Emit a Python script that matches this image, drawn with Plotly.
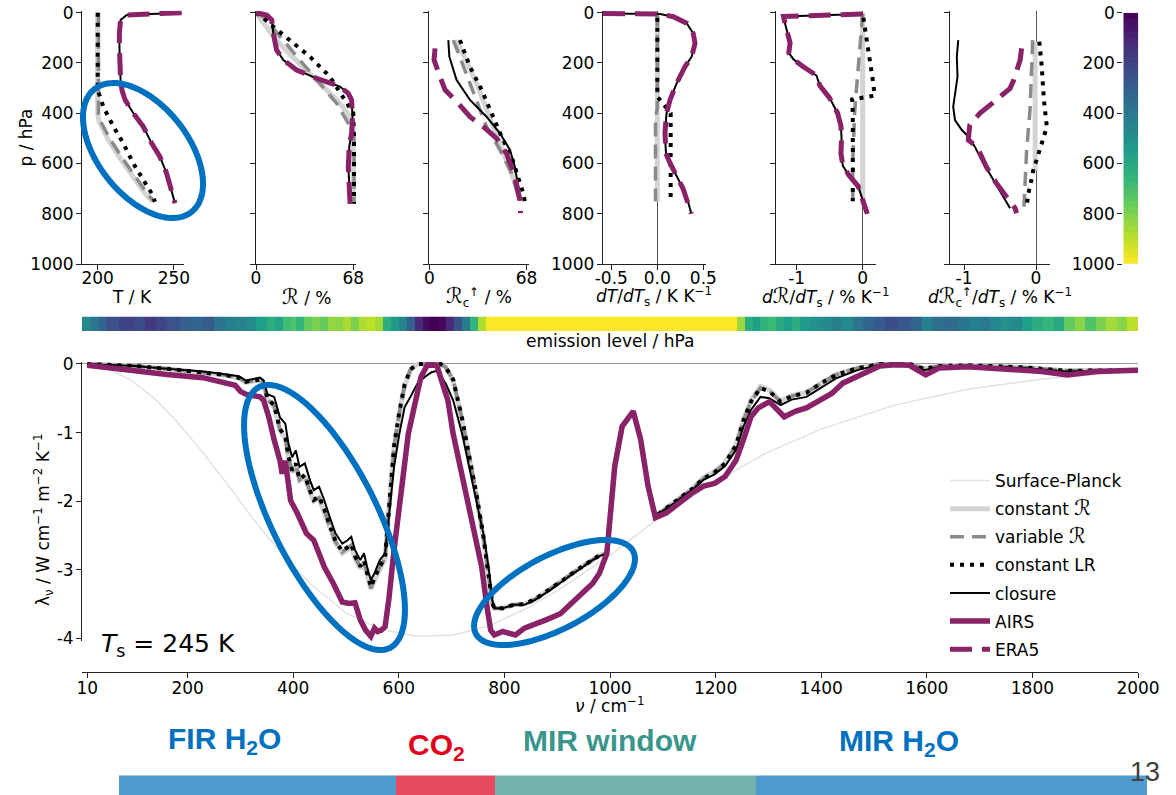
import math
import plotly.graph_objects as go

W, H = 1176, 795
FONT = "DejaVu Sans"
PURPLE = "#8a2268"
ELL = "#0070c0"
RSCR = '<span style="font-size:21px">ℛ</span>'

def fx(px):
    return px / W

def fy(py):
    return 1 - py / H

# ---------------- top panels: profile data (pressure in hPa) ----------------
# panel 1: temperature / K
t_p = [0, 9, 29, 82, 150, 215, 268, 310, 347, 400, 453, 520, 573, 639, 705, 758]
t_closure = [255, 219, 215, 214.2, 214.3, 214.6, 215, 216, 218, 223.4, 229.9, 235.4, 240.8, 245.2, 248.5, 250.7]
t_era5 = [255, 219, 215, 214.2, 214.3, 214.6, 215, 216, 218, 223.4, 229.9, 235.4, 240.8, 245.2, 248.5, 250.7]
t_constR_p = [0, 100, 200, 300, 405, 434, 507, 586, 666, 719, 752]
t_constR = [200, 200, 200, 200, 200, 201, 207, 215.5, 224.5, 231, 236]
t_varR_p = [0, 100, 200, 300, 405, 434, 507, 586, 666, 719, 752]
t_varR = [200.5, 200.5, 200.5, 200.5, 200.5, 202, 208.5, 217, 226, 232.5, 237]
t_constLR_p = [0, 100, 200, 307, 374, 453, 520, 600, 666, 719, 752]
t_constLR = [200, 200, 200, 200, 203.7, 210.3, 216.8, 223.4, 230, 235.4, 237.6]

# panel 2: relative humidity R / %
r_p = [0, 9, 29, 82, 148, 188, 228, 261, 294, 321, 347, 414, 480, 533, 613, 692, 760]
r_closure = [0, 7.5, 11, 12.1, 14.4, 19.1, 28.4, 42.4, 58.7, 64.5, 66.8, 67.5, 66.8, 65.2, 64.5, 65.2, 66.1]
r_era5_p = [0, 9, 29, 82, 148, 188, 228, 261, 294, 321, 347, 414, 480, 533, 613, 692, 772, 800]
r_era5 = [0, 7.5, 11, 12.1, 14.4, 19.1, 28.4, 42.4, 58.7, 64.5, 66.8, 67.5, 66.8, 65.2, 64.5, 65.2, 66.1, 66.1]
r_constR_p = [0, 50, 100, 150, 200, 250, 300, 350, 400, 450, 500, 600, 700, 760]
r_constR = [0, 6, 13, 21, 30, 39, 48, 57, 64, 68, 68, 68, 68, 68]
r_varR_p = [0, 16, 95, 188, 281, 361, 440, 480, 600, 700, 760]
r_varR = [0, 5.1, 16.8, 30.7, 44.7, 56.4, 64.5, 68.5, 68.5, 68.5, 68.5]
r_constLR_p = [0, 20, 60, 109, 175, 255, 334, 400, 500, 600, 700, 760]
r_constLR = [0, 5, 13, 23.8, 37.7, 51.7, 61, 68, 68.5, 68.5, 68.5, 68.5]

# panel 3: clear-sky upper relative humidity Rc / %
rc_p = [109, 175, 268, 347, 414, 480, 546, 613, 692, 745]
rc_closure = [13.3, 14, 19.1, 28.4, 40, 49.4, 56.4, 59.8, 62.2, 63.3]
rc_era5_p = [142, 188, 255, 307, 361, 414, 453, 500, 560, 652, 745, 798]
rc_era5 = [4, 3.3, 7.5, 11, 20.3, 28.4, 37.7, 47, 54, 59.8, 63.3, 63.8]
rc_constR_p = [109, 281, 453, 586, 692, 745]
rc_constR = [19.1, 33, 44.7, 54, 61, 63.3]
rc_varR_p = [109, 281, 453, 546, 639, 732]
rc_varR = [16.8, 28.4, 40, 49.4, 57.5, 62.2]
rc_constLR_p = [109, 215, 307, 400, 493, 573, 652, 719, 772]
rc_constLR = [21.4, 28.4, 36.6, 43.5, 50.5, 57.5, 62.2, 65.7, 67.5]

# panel 4: dT/dTs / K K-1
dt_p = [3, 5, 16, 42, 82, 122, 175, 215, 281, 347, 400, 480, 560, 600, 700, 760, 800]
dt_closure = [-0.59, 0.03, 0.174, 0.319, 0.39, 0.41, 0.373, 0.30, 0.21, 0.138, 0.10, 0.083, 0.094, 0.14, 0.28, 0.34, 0.37]
dt_era5 = [-0.59, 0.03, 0.174, 0.319, 0.39, 0.41, 0.373, 0.30, 0.21, 0.138, 0.10, 0.083, 0.094, 0.14, 0.28, 0.34, 0.37]
dt_constR_p = [0, 750]
dt_constR = [0, 0]
dt_varR_p = [0, 380, 420, 750]
dt_varR = [0, 0, -0.02, -0.02]
dt_constLR_p = [20, 334, 400, 745]
dt_constLR = [0, 0, 0.145, 0.145]

# panel 5: dR/dTs / % K-1
dr_p = [5, 15, 50, 120, 160, 185, 215, 250, 290, 340, 400, 450, 500, 560, 610, 650, 690, 720, 750, 800]
dr_closure = [0.0, -1.2, -1.17, -1.1, -1.12, -1.05, -0.9, -0.7, -0.65, -0.5, -0.38, -0.33, -0.32, -0.33, -0.3, -0.2, -0.07, -0.03, 0.0, 0.07]
dr_era5 = [0.0, -1.2, -1.17, -1.1, -1.12, -1.05, -0.9, -0.7, -0.65, -0.5, -0.38, -0.33, -0.32, -0.33, -0.3, -0.2, -0.07, -0.03, 0.0, 0.07]
dr_constR_p = [0, 765]
dr_constR = [0, 0]
dr_varR_p = [3, 215, 387, 586, 745]
dr_varR = [0, -0.07, -0.12, -0.15, -0.15]
dr_constLR_p = [20, 100, 200, 280, 330, 345, 400, 500, 600, 700, 750]
dr_constLR = [0.01, 0.06, 0.12, 0.16, 0.18, -0.16, -0.15, -0.15, -0.15, -0.15, -0.15]

# panel 6: dRc/dTs / % K-1
drc_p = [109, 175, 255, 321, 374, 427, 467, 493, 533, 586, 666, 732, 778]
drc_closure = [-1.08, -1.1, -1.09, -1.125, -1.15, -1.125, -1.03, -0.94, -0.85, -0.755, -0.59, -0.45, -0.36]
drc_era5_p = [142, 188, 268, 301, 347, 400, 447, 507, 533, 613, 679, 732, 778, 798]
drc_era5 = [-0.2, -0.22, -0.31, -0.36, -0.55, -0.78, -0.92, -0.94, -0.82, -0.69, -0.55, -0.41, -0.29, -0.27]
drc_constR_p = [115, 630]
drc_constR = [-0.012, -0.012]
drc_varR_p = [109, 215, 387, 546, 652, 772]
drc_varR = [-0.046, -0.06, -0.083, -0.13, -0.15, -0.167]
drc_constLR_p = [115, 215, 347, 453, 493, 579, 626, 679, 719, 772]
drc_constLR = [0.046, 0.08, 0.11, 0.15, 0.11, 0.019, -0.037, -0.074, -0.106, -0.13]

# ---------------- colour bar levels (hPa) ----------------
cbar_edges = list(range(0, 1001, 25))
cbar_vals = [e + 12.5 for e in cbar_edges[:-1]]

# ---------------- emission level per wavenumber band ----------------
em_edges = [0, 15, 30, 45, 70, 100, 120, 140, 160, 185,
            210, 230, 250, 270, 290, 310, 330, 350, 365, 380,
            395, 405, 420, 435, 450, 465, 480, 495, 510, 525,
            540, 555, 570, 585, 600, 615, 630, 645, 660, 675,
            690, 705, 720, 735, 750, 765, 1240, 1255, 1270, 1285,
            1300, 1315, 1330, 1345, 1360, 1380, 1400, 1420, 1440, 1460,
            1480, 1500, 1520, 1545, 1570, 1590, 1610, 1630, 1660, 1680,
            1700, 1720, 1740, 1760, 1780, 1800, 1820, 1840, 1860, 1880,
            1900, 1920, 1940, 1960, 1980, 2000]
em_level = [470, 400, 330, 250, 200, 230, 170, 210, 260, 300,
            330, 290, 380, 430, 450, 480, 560, 620, 580, 690,
            720, 660, 760, 800, 760, 840, 820, 870, 800, 880,
            900, 860, 620, 540, 450, 300, 120, 30, 0, 20,
            120, 250, 420, 650, 880, 1000, 850, 620, 560, 640,
            680, 600, 560, 620, 540, 500, 470, 430, 470, 380,
            330, 280, 240, 280, 330, 440, 370, 340, 390, 440,
            400, 460, 500, 470, 560, 620, 660, 600, 760, 820,
            720, 800, 860, 820, 900]

# ---------------- spectral feedback (bottom) ----------------
nu_planck = [10, 46, 94, 141, 182, 229, 276, 331, 385, 432, 500, 567, 635, 703, 770,
             838, 906, 974, 1009, 1086, 1191, 1295, 1400, 1539, 1678, 1818, 2000]
planck = [0, -0.06, -0.24, -0.53, -0.86, -1.29, -1.76, -2.33, -2.82, -3.2, -3.63, -3.87, -3.97, -3.95,
          -3.82, -3.58, -3.28, -2.93, -2.74, -2.28, -1.76, -1.3, -0.95, -0.6, -0.37, -0.22, -0.1]

nu_model = [10, 100, 160, 230, 270, 297, 310, 324, 337, 344,
            351, 364, 375, 385, 391, 398, 405, 412, 422, 432,
            439, 449, 459, 469, 480, 493, 503, 510, 517, 527,
            534, 540, 547, 554, 564, 574, 581, 591, 601, 611,
            622, 635, 649, 662, 672, 679, 689, 703, 720, 733,
            747, 760, 770, 777, 781, 797, 818, 838, 858, 886,
            913, 940, 967, 980, 994, 1009, 1023, 1044, 1058, 1072,
            1086, 1121, 1156, 1177, 1198, 1218, 1239, 1253, 1267, 1285,
            1302, 1323, 1344, 1372, 1400, 1428, 1469, 1511, 1567, 1595,
            1623, 1678, 1783, 1866, 1922, 2000]
closure = [0, -0.03, -0.07, -0.11, -0.15, -0.18, -0.24, -0.22, -0.20, -0.24,
           -0.44, -0.48, -0.78, -0.87, -1.16, -1.36, -1.26, -1.50, -1.45, -1.70,
           -1.84, -1.79, -1.99, -2.23, -2.47, -2.62, -2.57, -2.52, -2.71, -2.86,
           -2.76, -2.96, -3.15, -3.05, -2.86, -2.76, -2.23, -1.50, -1.02, -0.63,
           -0.48, -0.29, -0.19, -0.12, -0.10, -0.17, -0.29, -0.53, -1.02, -1.50,
           -1.99, -2.47, -2.96, -3.44, -3.56, -3.56, -3.51, -3.51, -3.44, -3.30,
           -3.15, -3.00, -2.86, -2.80, -2.76, -1.49, -0.91, -0.69, -1.10, -1.78,
           -2.22, -2.03, -1.83, -1.69, -1.61, -1.49, -1.25, -0.91, -0.67, -0.48,
           -0.50, -0.60, -0.52, -0.48, -0.35, -0.21, -0.09, -0.01, -0.01, -0.09,
           -0.04, -0.03, -0.06, -0.11, -0.10, -0.09]
constLR = [0, -0.03, -0.07, -0.12, -0.16, -0.20, -0.26, -0.24, -0.23, -0.28,
           -0.50, -0.60, -0.95, -1.05, -1.35, -1.55, -1.45, -1.68, -1.62, -1.85,
           -1.98, -1.93, -2.12, -2.35, -2.58, -2.73, -2.68, -2.63, -2.80, -2.95,
           -2.86, -3.05, -3.25, -3.12, -2.95, -2.82, -2.10, -1.20, -0.70, -0.30,
           -0.08, 0.0, 0.0, 0.0, 0.0, 0.0, -0.05, -0.23, -0.80, -1.30,
           -1.90, -2.50, -3.10, -3.48, -3.56, -3.56, -3.51, -3.50, -3.43, -3.29,
           -3.14, -2.99, -2.85, -2.79, -2.76, -1.49, -0.91, -0.69, -1.10, -1.78,
           -2.22, -2.02, -1.82, -1.67, -1.58, -1.45, -1.18, -0.82, -0.55, -0.35,
           -0.40, -0.55, -0.47, -0.42, -0.28, -0.16, -0.06, 0.0, 0.0, -0.07,
           -0.03, -0.02, -0.05, -0.10, -0.09, -0.09]
constR = [0, -0.03, -0.07, -0.12, -0.16, -0.21, -0.27, -0.25, -0.24, -0.29,
          -0.52, -0.62, -0.97, -1.08, -1.38, -1.58, -1.48, -1.70, -1.65, -1.88,
          -2.00, -1.96, -2.15, -2.38, -2.60, -2.76, -2.71, -2.66, -2.83, -2.98,
          -2.89, -3.08, -3.28, -3.15, -2.98, -2.84, -2.12, -1.22, -0.72, -0.32,
          -0.09, 0.0, 0.0, 0.0, 0.0, 0.0, -0.05, -0.24, -0.82, -1.32,
          -1.92, -2.52, -3.12, -3.49, -3.56, -3.56, -3.51, -3.50, -3.43, -3.29,
          -3.14, -2.99, -2.85, -2.79, -2.76, -1.49, -0.91, -0.69, -1.10, -1.78,
          -2.22, -2.02, -1.82, -1.66, -1.57, -1.44, -1.17, -0.80, -0.53, -0.33,
          -0.38, -0.54, -0.46, -0.41, -0.27, -0.15, -0.06, 0.0, 0.0, -0.07,
          -0.03, -0.02, -0.05, -0.10, -0.09, -0.09]
varR = [0, -0.03, -0.07, -0.12, -0.16, -0.20, -0.26, -0.25, -0.23, -0.28,
        -0.51, -0.61, -0.96, -1.06, -1.36, -1.57, -1.47, -1.69, -1.63, -1.86,
        -1.99, -1.95, -2.13, -2.36, -2.59, -2.74, -2.69, -2.64, -2.81, -2.96,
        -2.87, -3.06, -3.27, -3.13, -2.96, -2.83, -2.11, -1.21, -0.71, -0.31,
        -0.08, 0.0, 0.0, 0.0, 0.0, 0.0, -0.05, -0.23, -0.81, -1.31,
        -1.90, -2.50, -3.10, -3.48, -3.56, -3.56, -3.51, -3.50, -3.43, -3.29,
        -3.14, -2.99, -2.85, -2.79, -2.76, -1.49, -0.91, -0.69, -1.10, -1.78,
        -2.22, -2.02, -1.82, -1.67, -1.58, -1.45, -1.18, -0.82, -0.55, -0.35,
        -0.40, -0.55, -0.47, -0.42, -0.28, -0.16, -0.06, 0.0, 0.0, -0.07,
        -0.03, -0.02, -0.05, -0.10, -0.09, -0.09]

nu_airs = [10, 94, 161, 229, 276, 290, 300, 310, 324, 337,
           344, 354, 364, 375, 379, 385, 391, 395, 408, 425,
           439, 459, 476, 493, 506, 517, 527, 537, 547, 554,
           560, 567, 574, 581, 591, 605, 618, 632, 642, 655,
           672, 683, 693, 703, 716, 730, 743, 757, 767, 774,
           781, 797, 811, 821, 838, 858, 879, 906, 926, 946,
           967, 980, 994, 1009, 1023, 1044, 1058, 1072, 1086, 1107,
           1135, 1156, 1177, 1198, 1218, 1239, 1253, 1267, 1281, 1302,
           1330, 1351, 1372, 1400, 1420, 1441, 1469, 1497, 1511, 1539,
           1567, 1598, 1623, 1678, 1720, 1783, 1818, 1866, 1922, 2000]
airs = [-0.02, -0.10, -0.155, -0.20, -0.27, -0.31, -0.40, -0.44, -0.46, -0.48,
        -0.53, -0.78, -1.11, -1.41, -1.60, -1.41, -1.75, -1.99, -2.18, -2.47,
        -2.57, -2.96, -3.20, -3.47, -3.49, -3.48, -3.73, -3.88, -3.97, -3.85,
        -3.90, -3.88, -3.83, -3.44, -2.71, -1.75, -1.02, -0.53, -0.19, 0.0,
        -0.02, -0.29, -0.53, -1.02, -1.50, -1.99, -2.47, -2.96, -3.54, -3.88,
        -3.95, -3.90, -3.93, -3.95, -3.85, -3.80, -3.73, -3.64, -3.49, -3.34,
        -3.20, -3.05, -2.76, -1.49, -0.91, -0.69, -1.10, -1.78, -2.24, -2.17,
        -2.00, -1.88, -1.78, -1.74, -1.64, -1.40, -1.10, -0.77, -0.64, -0.55,
        -0.77, -0.69, -0.64, -0.52, -0.43, -0.28, -0.18, -0.09, -0.03, -0.01,
        -0.02, -0.16, -0.06, -0.04, -0.06, -0.09, -0.11, -0.16, -0.11, -0.09]

# ---------------- styles ----------------
S_PLANCK = dict(color="#e2e2e2", width=1.5)
S_CONSTR = dict(color="#d3d3d3", width=5)
S_VARR = dict(color="#8a8a8a", width=3.5, dash="14px,8px")
S_CONSTLR = dict(color="black", width=4, dash="4px,6px")
S_CLOSURE = dict(color="black", width=2)
S_AIRS = dict(color=PURPLE, width=5.5)
S_ERA5 = dict(color=PURPLE, width=5, dash="22px,10px")

fig = go.Figure()


def add(xv, yv, style, ax, name=None, show=False):
    fig.add_trace(go.Scatter(
        x=xv, y=yv, mode="lines", line=style, xaxis="x" + ax, yaxis="y" + ax,
        name=name, showlegend=show, legendgroup=name, hoverinfo="skip"))


# bottom spectral panel (added first so the legend follows this order)
add(nu_planck, planck, S_PLANCK, "7", name="Surface-Planck", show=True)
add(nu_model, constR, S_CONSTR, "7", name="constant " + RSCR, show=True)
add(nu_model, varR, S_VARR, "7", name="variable " + RSCR, show=True)
add(nu_model, constLR, S_CONSTLR, "7", name="constant LR", show=True)
add(nu_model, closure, S_CLOSURE, "7", name="closure", show=True)
add(nu_airs, airs, S_AIRS, "7", name="AIRS", show=True)

# top panels
profiles = [
    ("", (t_constR_p, t_constR), (t_varR_p, t_varR), (t_constLR_p, t_constLR), (t_p, t_closure), (t_p, t_era5)),
    ("2", (r_constR_p, r_constR), (r_varR_p, r_varR), (r_constLR_p, r_constLR), (r_p, r_closure), (r_era5_p, r_era5)),
    ("3", (rc_constR_p, rc_constR), (rc_varR_p, rc_varR), (rc_constLR_p, rc_constLR), (rc_p, rc_closure), (rc_era5_p, rc_era5)),
    ("4", (dt_constR_p, dt_constR), (dt_varR_p, dt_varR), (dt_constLR_p, dt_constLR), (dt_p, dt_closure), (dt_p, dt_era5)),
    ("5", (dr_constR_p, dr_constR), (dr_varR_p, dr_varR), (dr_constLR_p, dr_constLR), (dr_p, dr_closure), (dr_p, dr_era5)),
    ("6", (drc_constR_p, drc_constR), (drc_varR_p, drc_varR), (drc_constLR_p, drc_constLR), (drc_p, drc_closure), (drc_era5_p, drc_era5)),
]
for ax, cr, vr, lr, cl, er in profiles:
    add(cr[1], cr[0], S_CONSTR, ax)
    add(vr[1], vr[0], S_VARR, ax)
    add(lr[1], lr[0], S_CONSTLR, ax)
    add(cl[1], cl[0], S_CLOSURE, ax)
    add(er[1], er[0], S_ERA5, ax, name="ERA5", show=(ax == ""))

# vertical colour bar
fig.add_trace(go.Heatmap(
    x=[0, 1], y=cbar_edges, z=[[v] for v in cbar_vals], colorscale="Viridis",
    zmin=0, zmax=1000, showscale=False, xaxis="x8", yaxis="y8", hoverinfo="skip"))

# emission level strip
fig.add_trace(go.Heatmap(
    x=em_edges, y=[0, 1], z=[em_level], colorscale="Viridis", zmin=0, zmax=1000,
    showscale=False, xaxis="x9", yaxis="y9", hoverinfo="skip"))

# ---------------- axes ----------------
tickfont = dict(size=17, color="black", family=FONT)
base = dict(showline=True, linecolor="#222222", linewidth=1, ticks="outside", ticklen=5,
            tickcolor="#222222", tickwidth=1, showgrid=False, zeroline=False,
            tickfont=tickfont, fixedrange=True, automargin=False)

panel_specs = [
    ("", (82, 184), [189.7, 256.6], [200, 250], ["200", "250"], False, True),
    ("2", (256, 356), [0, 69.9], [0, 68], ["0", "68"], False, False),
    ("3", (429.3, 529.3), [0, 69.9], [0, 68], ["0", "68"], False, False),
    ("4", (602.7, 706), [-0.5935, 0.529], [-0.5, 0, 0.5], ["-0.5", "0.0", "0.5"], True, True),
    ("5", (776, 876), [-1.3136, 0.2015], [-1, 0], ["-1", "0"], True, False),
    ("6", (950, 1050), [-1.1944, 0.1944], [-1, 0], ["-1", "0"], True, False),
]
lay = {}
ptick = [0, 200, 400, 600, 800, 1000]
for ax, (a, b), rng, tv, tt, zl, ylab in panel_specs:
    lay["xaxis" + ax] = dict(base, domain=[fx(a), fx(b)], range=rng, anchor="y" + ax,
                             tickvals=tv, ticktext=tt, zeroline=zl, ticklabelstandoff=-6,
                             zerolinecolor="#555555", zerolinewidth=1)
    lay["yaxis" + ax] = dict(base, domain=[fy(264), fy(10.7)], range=[1000, -8],
                             anchor="x" + ax, tickvals=ptick, ticklabelstandoff=-1,
                             ticktext=[str(v) for v in ptick], showticklabels=ylab)

lay["xaxis7"] = dict(base, domain=[fx(82), fx(1138)], range=[0, 2000], anchor="free",
                     position=fy(672), ticklabelstandoff=-4,
                     tickvals=[10, 200, 400, 600, 800, 1000, 1200, 1400, 1600, 1800, 2000],
                     ticktext=["10", "200", "400", "600", "800", "1000", "1200", "1400", "1600", "1800", "2000"])
lay["yaxis7"] = dict(base, domain=[fy(641.1), fy(361.9)], range=[-4.04, 0.03], anchor="x7",
                     tickvals=[0, -1, -2, -3, -4], ticktext=["0", "-1", "-2", "-3", "-4"],
                     ticklabelstandoff=-1,
                     zeroline=True, zerolinecolor="#9a9a9a", zerolinewidth=1)
lay["xaxis8"] = dict(domain=[fx(1123.3), fx(1138.3)], range=[0, 1], visible=False, anchor="y8",
                     fixedrange=True, automargin=False)
lay["yaxis8"] = dict(base, domain=[fy(264), fy(12.7)], range=[1000, 0], anchor="x8", side="left",
                     showline=False, tickvals=ptick, ticktext=[str(v) for v in ptick], ticklabelstandoff=-1)
lay["xaxis9"] = dict(domain=[fx(82), fx(1138)], range=[0, 2000], visible=False, anchor="y9",
                     fixedrange=True, automargin=False)
lay["yaxis9"] = dict(domain=[fy(331), fy(316.5)], range=[0, 1], visible=False, anchor="x9",
                     fixedrange=True, automargin=False)

# ---------------- annotations ----------------
ann = []


def text(x, y, s, size=17, color="black", angle=0, xanchor="center", family=FONT, bold=False):
    if bold:
        s = "<b>" + s + "</b>"
    ann.append(dict(x=fx(x), y=fy(y), xref="paper", yref="paper", text=s, showarrow=False,
                    xanchor=xanchor, yanchor="middle", textangle=angle,
                    font=dict(size=size, color=color, family=family)))


titles = ["T / K", RSCR + " / %", RSCR + "<sub>c</sub><sup>↑</sup> / %",
          "<i>dT</i>/<i>dT</i><sub>s</sub> / K K<sup>−1</sup>",
          "<i>d</i>" + RSCR + "/<i>dT</i><sub>s</sub> / % K<sup>−1</sup>",
          "<i>d</i>" + RSCR + "<sub>c</sub><sup>↑</sup>/<i>dT</i><sub>s</sub> / % K<sup>−1</sup>"]
for (ax, (a, b), *_), t in zip(panel_specs, titles):
    text(654 if ax == "4" else a + 50, 297, t)
text(25.5, 138, "p / hPa", angle=-90)
text(43, 520, "λ<sub>ν</sub> / W cm<sup>−1</sup> m<sup>−2</sup> K<sup>−1</sup>", angle=-90)
text(609, 705, "<i>ν</i> / cm<sup>−1</sup>")
text(610, 341, "emission level / hPa")
text(99, 645, "<i>T</i><sub>s</sub> = 245 K", size=25, xanchor="left")

BAND_FONT = "Liberation Sans"
text(224, 740, "FIR H<sub>2</sub>O", size=30, color="#0070c0", family=BAND_FONT, bold=True)
text(436, 746, "CO<sub>2</sub>", size=30, color="#e2001a", family=BAND_FONT, bold=True)
text(610, 740, "MIR window", size=30, color="#3a968c", family=BAND_FONT, bold=True)
text(899, 742, "MIR H<sub>2</sub>O", size=30, color="#0070c0", family=BAND_FONT, bold=True)
text(1145, 772, "13", size=27, color="#404040", family="Liberation Sans Narrow, Liberation Sans")

# ---------------- shapes: bands and highlight ellipses ----------------
shapes = []
bands = [(119, 396, "#4f9bd0"), (396, 495, "#e84a5f"), (495, 756, "#73b1ac"), (756, 1147, "#4f9bd0")]
for a, b, c in bands:
    shapes.append(dict(type="rect", xref="paper", yref="paper", x0=fx(a), x1=fx(b),
                       y0=fy(795), y1=fy(775.5), fillcolor=c, line=dict(width=0), layer="above"))


def ellipse(cx, cy, a, b, ang):
    th = math.radians(ang)
    pts = []
    n = 120
    for k in range(n):
        t = 2 * math.pi * k / n
        x = cx + a * math.cos(t) * math.cos(th) - b * math.sin(t) * math.sin(th)
        y = cy + a * math.cos(t) * math.sin(th) + b * math.sin(t) * math.cos(th)
        pts.append("%.5f,%.5f" % (fx(x), fy(y)))
    return "M" + " L".join(pts) + " Z"


for cx, cy, a, b, ang in [(143, 150.5, 78.3, 45, 51.7), (324.5, 517.5, 145.9, 52.5, 63.4),
                          (554.5, 592.5, 88.8, 36.7, -27.7)]:
    shapes.append(dict(type="path", path=ellipse(cx, cy, a, b, ang), xref="paper", yref="paper",
                       line=dict(color=ELL, width=6), fillcolor="rgba(0,0,0,0)", layer="above"))

fig.update_layout(
    template="none",
    width=W, height=H, autosize=False,
    margin=dict(l=0, r=0, t=0, b=0, pad=0, autoexpand=False),
    paper_bgcolor="white", plot_bgcolor="white",
    font=dict(family=FONT, size=17, color="black"),
    annotations=ann, shapes=shapes,
    legend=dict(x=fx(945), y=fy(463), xanchor="left", yanchor="top", bgcolor="rgba(0,0,0,0)",
                font=dict(size=17, family=FONT, color="black"), traceorder="grouped",
                tracegroupgap=3, itemwidth=40, borderwidth=0),
    **lay)

fig.write_html("out.html")
